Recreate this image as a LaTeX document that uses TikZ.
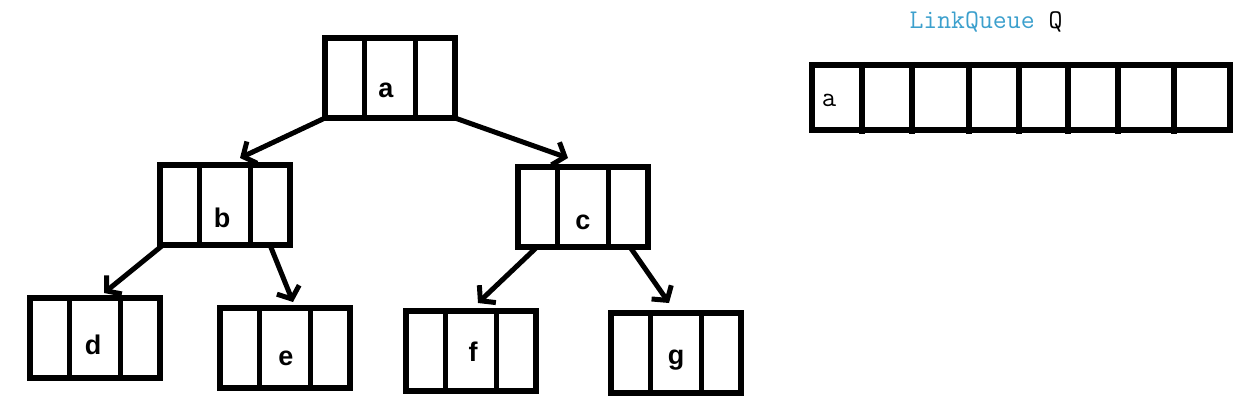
\documentclass[tikz,border=0pt]{standalone}
\usepackage{fontspec}
\newfontfamily\labfont{Liberation Sans}
\usetikzlibrary{arrows.meta,calc}
\definecolor{qblue}{RGB}{60,160,205}
\tikzset{
 cell/.style={draw, line width=5.5pt, inner sep=0pt, outer sep=0pt, minimum width=130pt, minimum height=80pt, anchor=north west,
  path picture={\draw[line width=5pt] ([xshift=39pt]path picture bounding box.north west) -- ([xshift=39pt]path picture bounding box.south west);
   \draw[line width=5pt] ([xshift=90pt]path picture bounding box.north west) -- ([xshift=90pt]path picture bounding box.south west);}},
 lab/.style={font=\labfont\bfseries\fontsize{27}{32}\selectfont, inner sep=0pt},
 arr/.style={line width=5pt, -{Straight Barb[length=10pt,width=24pt]}},
 qline/.style={line width=5.5pt},
 mono/.style={font=\ttfamily\fontsize{27}{31}\selectfont, inner sep=0pt}
}
\begin{document}
\begin{tikzpicture}[x=1pt,y=-1pt]
\useasboundingbox[fill=white] (0,0) rectangle (1255,406);
% tree nodes
\node[cell] (a) at (325,38) {};
\node[cell] (b) at (160,165) {};
\node[cell] (c) at (518,167) {};
\node[cell] (d) at (30,298) {};
\node[cell] (e) at (220,308) {};
\node[cell] (f) at (406,311) {};
\node[cell] (g) at (611,313) {};
% labels
\node[lab] (la) at (386,90) {a};
\node[lab] (lb) at (222,218) {b};
\node[lab] (lc) at (583,222) {c};
\node[lab] (ld) at (93,345) {d};
\node[lab] (le) at (286,358) {e};
\node[lab] (lf) at (473,352) {f};
\node[lab] (lg) at (676,360) {g};
% arrows
\draw[arr] (a.south west) -- ($(b.north)+(15,-7)$);
\draw[arr] (a.south east) -- ($(c.north)+(-15,-9)$);
\draw[arr] ($(b.south west)+(3,0)$) -- ($(d.north)+(9,-5)$);
\draw[arr] ($(b.south east)+(-20,0)$) -- ($(e.north)+(8,-6)$);
\draw[arr] ($(c.south west)+(19,0)$) -- ($(f.north)+(7,-8)$);
\draw[arr] ($(c.south east)+(-18,0)$) -- ($(g.north)+(-7,-10)$);
% queue
\node[mono] (title) at (986,22) {\textcolor{qblue}{LinkQueue} Q};
\node[draw, qline, inner sep=0pt, outer sep=0pt, minimum width=418pt, minimum height=65pt, anchor=north west] (q) at (812,65) {};
\foreach \x in {862,912,969,1019,1068,1118,1174}
  \draw[qline] (\x,62) -- (\x,134);
\node[font=\ttfamily\fontsize{28}{32}\selectfont, inner sep=0pt] (qa) at (829,100) {a};
\end{tikzpicture}
\end{document}
